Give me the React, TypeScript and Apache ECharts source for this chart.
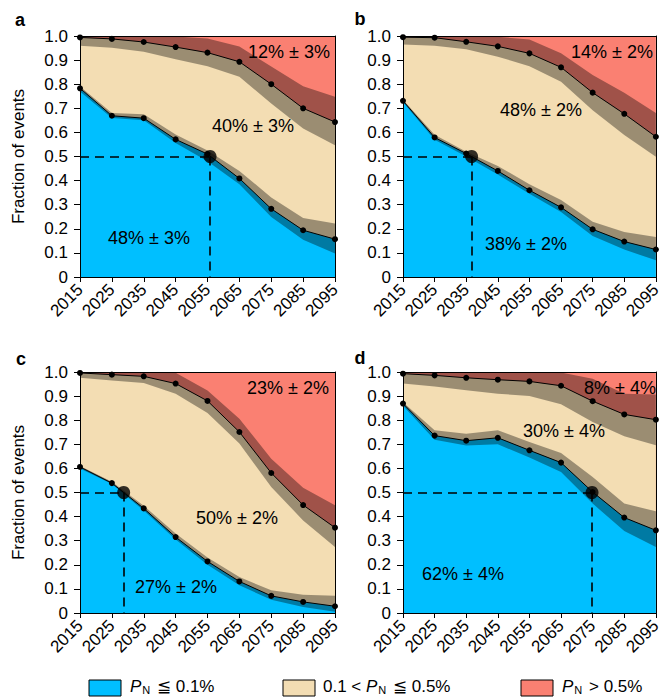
import React, { useEffect, useRef } from 'react';
import * as echarts from 'echarts';

const years = [2015, 2025, 2035, 2045, 2055, 2065, 2075, 2085, 2095];

// Panel a
const aUpper = [0.994, 0.988, 0.975, 0.954, 0.931, 0.893, 0.80, 0.70, 0.643];
const aUpperHi = [1.0, 1.0, 1.0, 0.998, 0.99, 0.956, 0.873, 0.792, 0.748];
const aUpperLo = [0.96, 0.951, 0.935, 0.904, 0.875, 0.831, 0.72, 0.616, 0.547];
const aLower = [0.783, 0.669, 0.659, 0.571, 0.51, 0.409, 0.283, 0.194, 0.157];
const aLowerHi = [0.79, 0.68, 0.675, 0.591, 0.525, 0.44, 0.33, 0.245, 0.222];
const aLowerLo = [0.77, 0.66, 0.65, 0.556, 0.48, 0.385, 0.249, 0.155, 0.097];

// Panel b
const bUpper = [0.995, 0.993, 0.976, 0.957, 0.928, 0.87, 0.765, 0.677, 0.582];
const bUpperHi = [1.0, 1.0, 1.0, 0.997, 0.985, 0.928, 0.838, 0.765, 0.681];
const bUpperLo = [0.965, 0.96, 0.945, 0.914, 0.875, 0.81, 0.692, 0.589, 0.499];
const bLower = [0.731, 0.579, 0.512, 0.44, 0.36, 0.289, 0.198, 0.147, 0.114];
const bLowerHi = [0.735, 0.59, 0.52, 0.461, 0.385, 0.319, 0.229, 0.187, 0.166];
const bLowerLo = [0.725, 0.57, 0.5, 0.425, 0.345, 0.27, 0.17, 0.114, 0.069];

// Panel c
const cUpper = [0.996, 0.989, 0.982, 0.952, 0.88, 0.751, 0.581, 0.448, 0.354];
const cUpperHi = [1.0, 1.0, 1.0, 0.997, 0.923, 0.806, 0.64, 0.52, 0.447];
const cUpperLo = [0.976, 0.965, 0.954, 0.91, 0.83, 0.703, 0.523, 0.384, 0.274];
const cLower = [0.606, 0.539, 0.434, 0.315, 0.214, 0.131, 0.071, 0.046, 0.028];
const cLowerHi = [0.61, 0.545, 0.445, 0.33, 0.23, 0.149, 0.094, 0.076, 0.072];
const cLowerLo = [0.6, 0.535, 0.425, 0.305, 0.2, 0.115, 0.055, 0.025, 0.005];

// Panel d
const dUpper = [0.993, 0.986, 0.976, 0.968, 0.961, 0.943, 0.879, 0.824, 0.802];
const dUpperHi = [1.0, 1.0, 1.0, 1.0, 1.0, 0.998, 0.972, 0.91, 0.907];
const dUpperLo = [0.952, 0.94, 0.924, 0.91, 0.9, 0.866, 0.793, 0.733, 0.696];
const dLower = [0.869, 0.736, 0.715, 0.727, 0.675, 0.624, 0.502, 0.396, 0.343];
const dLowerHi = [0.875, 0.758, 0.744, 0.758, 0.71, 0.664, 0.564, 0.454, 0.422];
const dLowerLo = [0.86, 0.719, 0.695, 0.70, 0.645, 0.585, 0.454, 0.34, 0.274];

// Year at which the lower boundary crosses 0.5 (big dot)
const crossYears = [2055.8, 2036.7, 2028.7, 2074.8];
const crossValue = 0.5;

const panelLetters = ['a', 'b', 'c', 'd'];
const topLabels = ['12% ± 3%', '14% ± 2%', '23% ± 2%', '8% ± 4%'];
const midLabels = ['40% ± 3%', '48% ± 2%', '50% ± 2%', '30% ± 4%'];
const lowLabels = ['48% ± 3%', '38% ± 2%', '27% ± 2%', '62% ± 4%'];

const legendNames = [
  '{i|P}{s|N} ≦ 0.1%',
  '0.1 < {i|P}{s|N} ≦ 0.5%',
  '{i|P}{s|N} > 0.5%',
];

const BLUE = '#00BFFF';
const TAN = '#F3DDB3';
const RED = '#FA8072';
const BAND = 'rgba(0,0,0,0.36)';
const FONT = 'Liberation Sans, Arial, Helvetica, sans-serif';

const panels = [
  { upper: aUpper, upperHi: aUpperHi, upperLo: aUpperLo, lower: aLower, lowerHi: aLowerHi, lowerLo: aLowerLo },
  { upper: bUpper, upperHi: bUpperHi, upperLo: bUpperLo, lower: bLower, lowerHi: bLowerHi, lowerLo: bLowerLo },
  { upper: cUpper, upperHi: cUpperHi, upperLo: cUpperLo, lower: cLower, lowerHi: cLowerHi, lowerLo: cLowerLo },
  { upper: dUpper, upperHi: dUpperHi, upperLo: dUpperLo, lower: dLower, lowerHi: dLowerHi, lowerLo: dLowerLo },
];

// layout (pixels)
const grids = [
  { left: 80, top: 36, width: 255, height: 241 },
  { left: 403, top: 36, width: 256, height: 241 },
  { left: 80, top: 372, width: 255, height: 241 },
  { left: 403, top: 372, width: 256, height: 241 },
];
const letterPos = [[20, 20], [360, 19], [21, 359], [360, 358]];
const labelPos = [
  [[289, 52], [253, 126], [149, 238]],
  [[612, 52], [541, 110], [526, 244]],
  [[288, 388], [237, 518], [176, 587]],
  [[620, 388], [564, 431], [463, 574]],
];

const x0 = years[0];
const pts = (arr: number[]) => years.map((y, k) => [y - x0, arr[k]]);

function bandSeries(i: number, lo: number[], hi: number[]) {
  return {
    type: 'custom', xAxisIndex: i, yAxisIndex: i, silent: true, z: 2, animation: false,
    data: years.map((y, k) => [y - x0, lo[k], hi[k]]),
    encode: { x: 0, y: [1, 2] },
    renderItem: (params: any, api: any) => {
      if (params.dataIndex !== 0) return null;
      const top: number[][] = [];
      const bot: number[][] = [];
      for (let k = 0; k < years.length; k++) {
        top.push(api.coord([years[k] - x0, hi[k]]));
        bot.push(api.coord([years[k] - x0, lo[k]]));
      }
      return {
        type: 'polygon',
        shape: { points: top.concat(bot.reverse()) },
        style: { fill: BAND },
      };
    },
  };
}

function buildOption() {
  const xAxis: any[] = [];
  const yAxis: any[] = [];
  const series: any[] = [];
  const graphic: any[] = [];

  grids.forEach((g, i) => {
    xAxis.push({
      type: 'value', gridIndex: i, min: 0, max: years[years.length - 1] - x0, interval: 10, z: 10,
      axisLine: { show: true, onZero: false, lineStyle: { color: '#000', width: 1 } },
      axisTick: { show: true, length: 5, lineStyle: { color: '#000' } },
      splitLine: { show: false },
      axisLabel: {
        rotate: 45, margin: 10, fontSize: 17, color: '#000', fontFamily: FONT,
        formatter: (v: number) => String(v + x0),
      },
    });
    yAxis.push({
      type: 'value', gridIndex: i, min: 0, max: 1, interval: 0.1, z: 10,
      axisLine: { show: true, onZero: false, lineStyle: { color: '#000', width: 1 } },
      axisTick: { show: true, length: 6, lineStyle: { color: '#000' } },
      splitLine: { show: false },
      axisLabel: {
        margin: 12, fontSize: 17, color: '#000', fontFamily: FONT,
        formatter: (v: number) => (v === 0 ? '0' : v.toFixed(1)),
      },
      name: i % 2 === 0 ? 'Fraction of events' : '',
      nameLocation: 'middle',
      nameGap: 53,
      nameTextStyle: { fontSize: 17, color: '#000', fontFamily: FONT },
    });
  });
  // frame axes (top and right)
  grids.forEach((g, i) => {
    xAxis.push({
      type: 'value', gridIndex: i, position: 'top', min: 0, max: 80, z: 10,
      axisLine: { show: true, onZero: false, lineStyle: { color: '#000', width: 1 } },
      axisTick: { show: false }, axisLabel: { show: false }, splitLine: { show: false },
    });
    yAxis.push({
      type: 'value', gridIndex: i, position: 'right', min: 0, max: 1, z: 10,
      axisLine: { show: true, onZero: false, lineStyle: { color: '#000', width: 1 } },
      axisTick: { show: false }, axisLabel: { show: false }, splitLine: { show: false },
    });
  });

  panels.forEach((p, i) => {
    const common = { xAxisIndex: i, yAxisIndex: i, silent: true, animation: false };
    series.push({
      ...common, type: 'line', data: pts(p.upper), symbol: 'none',
      lineStyle: { width: 0 }, areaStyle: { color: TAN, opacity: 1, origin: 'start' }, z: 1,
    });
    series.push({
      ...common, type: 'line', data: pts(p.lower), symbol: 'none',
      lineStyle: { width: 0 }, areaStyle: { color: BLUE, opacity: 1, origin: 'start' }, z: 1,
    });
    // uncertainty bands
    series.push(bandSeries(i, p.upperLo, p.upperHi));
    series.push(bandSeries(i, p.lowerLo, p.lowerHi));
    // boundary lines
    series.push({
      ...common, type: 'line', data: pts(p.upper), symbol: 'circle', symbolSize: 6,
      itemStyle: { color: '#000' }, lineStyle: { color: '#000', width: 1 }, z: 4,
    });
    const xc = crossYears[i] - x0;
    series.push({
      ...common, type: 'line', data: pts(p.lower), symbol: 'circle', symbolSize: 6,
      itemStyle: { color: '#000' }, lineStyle: { color: '#000', width: 1 }, z: 4,
      markLine: {
        silent: true, symbol: 'none', animation: false,
        lineStyle: { color: '#000', type: [9, 6], width: 1.6 },
        label: { show: false },
        data: [
          [{ coord: [0, crossValue] }, { coord: [xc, crossValue] }],
          [{ coord: [xc, crossValue] }, { coord: [xc, 0] }],
        ],
      },
    });
    series.push({
      ...common, type: 'scatter', data: [[xc, crossValue]], symbol: 'circle', symbolSize: 13,
      itemStyle: { color: '#000' }, z: 5,
    });

    const lp = labelPos[i];
    [topLabels[i], midLabels[i], lowLabels[i]].forEach((t, k) => {
      graphic.push({
        type: 'text', x: lp[k][0], y: lp[k][1], z: 100,
        style: { text: t, fontSize: 18, fontFamily: FONT, fill: '#000', align: 'center', verticalAlign: 'middle' },
      });
    });
    graphic.push({
      type: 'text', x: letterPos[i][0], y: letterPos[i][1], z: 100,
      style: { text: panelLetters[i], fontSize: 18, fontWeight: 'bold', fontFamily: FONT, fill: '#000', align: 'center', verticalAlign: 'middle' },
    });
  });

  // legend
  const legendColors = [BLUE, TAN, RED];
  const legendBoxX = [89, 283, 521];
  const legendTextX = [130, 323, 562];
  legendNames.forEach((name, k) => {
    graphic.push({
      type: 'rect', shape: { x: legendBoxX[k], y: 680, width: 32, height: 16 }, z: 100,
      style: { fill: legendColors[k], stroke: '#000', lineWidth: 1 },
    });
    graphic.push({
      type: 'text', x: legendTextX[k], y: 686, z: 100,
      style: {
        text: name, fontSize: 17, fontFamily: FONT, fill: '#000', verticalAlign: 'middle',
        rich: {
          i: { fontStyle: 'italic', fontSize: 17, fontFamily: FONT, fill: '#000' },
          s: { fontSize: 11, fontFamily: FONT, fill: '#000', padding: [7, 2, 0, 1] },
        },
      },
    });
  });

  return {
    animation: false,
    backgroundColor: '#fff',
    grid: grids.map((g) => ({
      ...g, show: true, backgroundColor: RED, borderWidth: 0, containLabel: false,
    })),
    xAxis, yAxis, series, graphic,
  };
}

export default function App() {
  const ref = useRef<HTMLDivElement>(null);
  useEffect(() => {
    if (!ref.current) return;
    const chart = echarts.init(ref.current, undefined, { renderer: 'svg' });
    chart.setOption(buildOption() as any);
    return () => chart.dispose();
  }, []);
  return (
    <div
      ref={ref}
      style={{ position: 'fixed', left: 0, top: 0, width: 664, height: 699, background: '#fff' }}
    />
  );
}
